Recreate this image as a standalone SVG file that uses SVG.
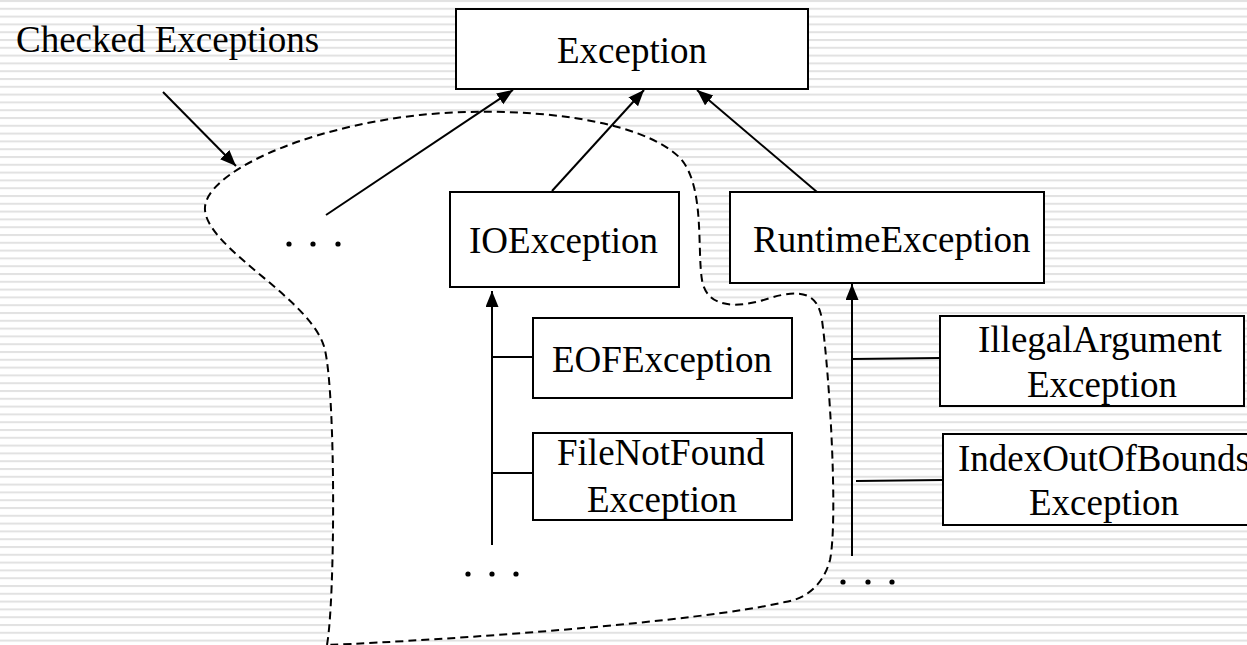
<svg xmlns="http://www.w3.org/2000/svg" width="1247" height="645" viewBox="0 0 1247 645">
  <style>
    .box { fill: #ffffff; stroke: #000000; stroke-width: 2; }
    .lbl { font-family: "Liberation Serif", "Times New Roman", serif; font-size: 37px; fill: #000000; }
    .conn { stroke: #000000; stroke-width: 2; fill: none; }
    .dot { fill: #000000; }
  </style>
  <defs>
    <pattern id="stripes" patternUnits="userSpaceOnUse" x="0" y="0" width="20" height="7.8">
      <rect x="0" y="0" width="20" height="7.8" fill="#ffffff"/>
      <rect x="0" y="0" width="20" height="2" fill="#e2e2e2"/>
    </pattern>
    <marker id="arrow" markerUnits="userSpaceOnUse" markerWidth="18" markerHeight="14" refX="16" refY="6.5" orient="auto">
      <path d="M0,0 L16,6.5 L0,13 Z" fill="#000000"/>
    </marker>
  </defs>

  <rect x="0" y="0" width="1247" height="645" fill="url(#stripes)"/>

  <g id="checked-region">
    <path d="M 327 645 C 335 600, 336 400, 325 350 C 314 300, 208 250, 205 210 C 202 175, 300 128, 420 115 C 520 105, 640 118, 680 158 C 705 185, 697 250, 702 280 C 707 310, 740 308, 770 298 C 800 289, 818 292, 822 320 C 830 380, 838 520, 830 560 C 822 590, 800 600, 785 602 C 700 622, 450 640, 327 645 Z" fill="#ffffff" stroke="#000000" stroke-width="2" stroke-dasharray="8,5"/>
  </g>

  <g id="connectors">
    <line class="conn" x1="163" y1="92" x2="236" y2="166" marker-end="url(#arrow)"/>
    <line class="conn" x1="326" y1="215" x2="513" y2="90" marker-end="url(#arrow)"/>
    <line class="conn" x1="552" y1="191" x2="644" y2="90" marker-end="url(#arrow)"/>
    <line class="conn" x1="817" y1="192" x2="697" y2="90" marker-end="url(#arrow)"/>
    <line class="conn" x1="492" y1="545" x2="492" y2="291" marker-end="url(#arrow)"/>
    <line class="conn" x1="492" y1="357" x2="533" y2="357"/>
    <line class="conn" x1="492" y1="473" x2="533" y2="473"/>
    <line class="conn" x1="852" y1="556" x2="852" y2="284" marker-end="url(#arrow)"/>
    <line class="conn" x1="852" y1="359" x2="940" y2="358"/>
    <line class="conn" x1="856" y1="481" x2="943" y2="480"/>
  </g>

  <g id="label-checked">
    <text class="lbl" x="16" y="52">Checked Exceptions</text>
  </g>

  <g id="exception">
    <rect class="box" x="456" y="9" width="352" height="80"/>
    <text class="lbl" x="557" y="63">Exception</text>
  </g>

  <g id="ioexception">
    <rect class="box" x="450" y="192" width="229" height="95"/>
    <text class="lbl" x="469" y="253">IOException</text>
  </g>

  <g id="runtimeexception">
    <rect class="box" x="730" y="192" width="314" height="91"/>
    <text class="lbl" x="753" y="252">RuntimeException</text>
  </g>

  <g id="eofexception">
    <rect class="box" x="533" y="318" width="259" height="80"/>
    <text class="lbl" x="552" y="372">EOFException</text>
  </g>

  <g id="filenotfoundexception">
    <rect class="box" x="533" y="433" width="259" height="87"/>
    <text class="lbl" x="557" y="465">FileNotFound</text>
    <text class="lbl" x="587" y="512">Exception</text>
  </g>

  <g id="illegalargumentexception">
    <rect class="box" x="940" y="316" width="304" height="90"/>
    <text class="lbl" x="978" y="352">IllegalArgument</text>
    <text class="lbl" x="1027" y="397">Exception</text>
  </g>

  <g id="indexoutofboundsexception">
    <rect class="box" x="943" y="434" width="320" height="91"/>
    <text class="lbl" x="958" y="471">IndexOutOfBounds</text>
    <text class="lbl" x="1029" y="515">Exception</text>
  </g>

  <g id="more-checked">
    <circle class="dot" cx="289" cy="244" r="2.6"/>
    <circle class="dot" cx="313" cy="244" r="2.6"/>
    <circle class="dot" cx="338" cy="244" r="2.6"/>
  </g>

  <g id="more-io">
    <circle class="dot" cx="468" cy="574" r="2.6"/>
    <circle class="dot" cx="492" cy="574" r="2.6"/>
    <circle class="dot" cx="516" cy="574" r="2.6"/>
  </g>

  <g id="more-runtime">
    <circle class="dot" cx="843" cy="582" r="2.6"/>
    <circle class="dot" cx="868" cy="582" r="2.6"/>
    <circle class="dot" cx="892" cy="582" r="2.6"/>
  </g>
</svg>
